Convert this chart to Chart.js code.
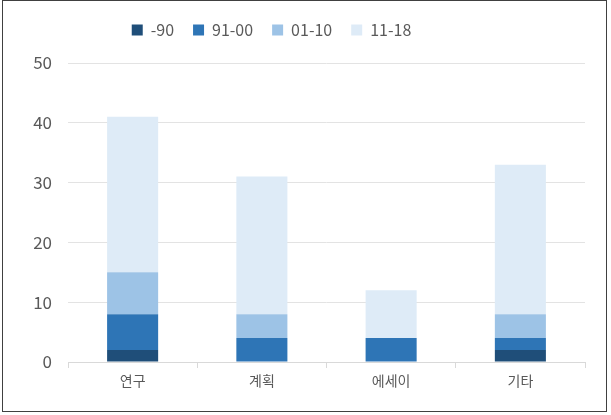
<!DOCTYPE html>
<html>
<head>
<meta charset="utf-8">
<script src="https://cdn.jsdelivr.net/npm/chart.js@4/dist/chart.umd.min.js"></script>
<style>
  html, body { margin: 0; padding: 0; background: #fff; }
  #wrap { position: relative; width: 611px; height: 415px; }
  #frame { position: absolute; left: 2px; top: 0px; width: 603px; height: 410px; border: 1px solid #404040; pointer-events: none; }
  canvas { position: absolute; left: 0; top: 0; }
</style>
</head>
<body>
<div id="wrap">
  <canvas id="c" width="611" height="415"></canvas>
  <div id="frame"></div>
</div>
<script>
const categories = ['연구', '계획', '에세이', '기타'];
const seriesNames = ['-90', '91-00', '01-10', '11-18'];
const s90 = [2, 0, 0, 2];
const s00 = [6, 4, 4, 2];
const s10 = [7, 4, 0, 4];
const s18 = [26, 23, 8, 25];
const colors = ['#1f4e79', '#2e75b6', '#9dc3e6', '#deebf7'];
const yTicks = [0, 10, 20, 30, 40, 50];

const font = "'Noto Sans CJK KR', 'Noto Sans', sans-serif";
const textColor = '#595959';

const values = [s90, s00, s10, s18];
const datasets = seriesNames.map((name, i) => ({
  label: name,
  data: values[i],
  backgroundColor: colors[i],
  borderWidth: 0,
  barPercentage: 0.395,
  categoryPercentage: 1.0,
  stack: 's'
}));

// Nudge the legend up and to the left after layout
const legendShift = {
  id: 'legendShift',
  afterLayout(chart) {
    const lg = chart.legend;
    if (!lg) return;
    const dx = 21, dy = 15;
    lg.left -= dx; lg.right -= dx;
    lg.top -= dy; lg.bottom -= dy;
    lg.legendHitBoxes.forEach(b => { b.left -= dx; b.top -= dy; });
  }
};

new Chart(document.getElementById('c'), {
  type: 'bar',
  data: { labels: categories, datasets },
  plugins: [legendShift],
  options: {
    responsive: false,
    animation: false,
    layout: { padding: { left: 0, right: 26, top: 18, bottom: 0 } },
    plugins: {
      tooltip: { enabled: false },
      legend: {
        position: 'top',
        labels: {
          font: { family: font, size: 16 },
          color: textColor,
          boxWidth: 11,
          boxHeight: 11,
          padding: 19
        }
      }
    },
    scales: {
      x: {
        stacked: true,
        grid: { offset: true, drawOnChartArea: false, color: '#d9d9d9', tickLength: 6 },
        border: { color: '#d9d9d9' },
        ticks: { font: { family: font, size: 14 }, color: textColor, padding: 4 },
        afterFit: (s) => { s.height = 53; }
      },
      y: {
        stacked: true,
        min: 0,
        max: 50,
        afterBuildTicks: (s) => { s.ticks = yTicks.map(v => ({ value: v })); },
        grid: { color: '#e3e3e3', drawTicks: false },
        border: { display: false },
        ticks: { font: { family: font, size: 17 }, color: textColor, padding: 16 },
        afterFit: (s) => { s.width = 68; }
      }
    }
  }
});
</script>
</body>
</html>
